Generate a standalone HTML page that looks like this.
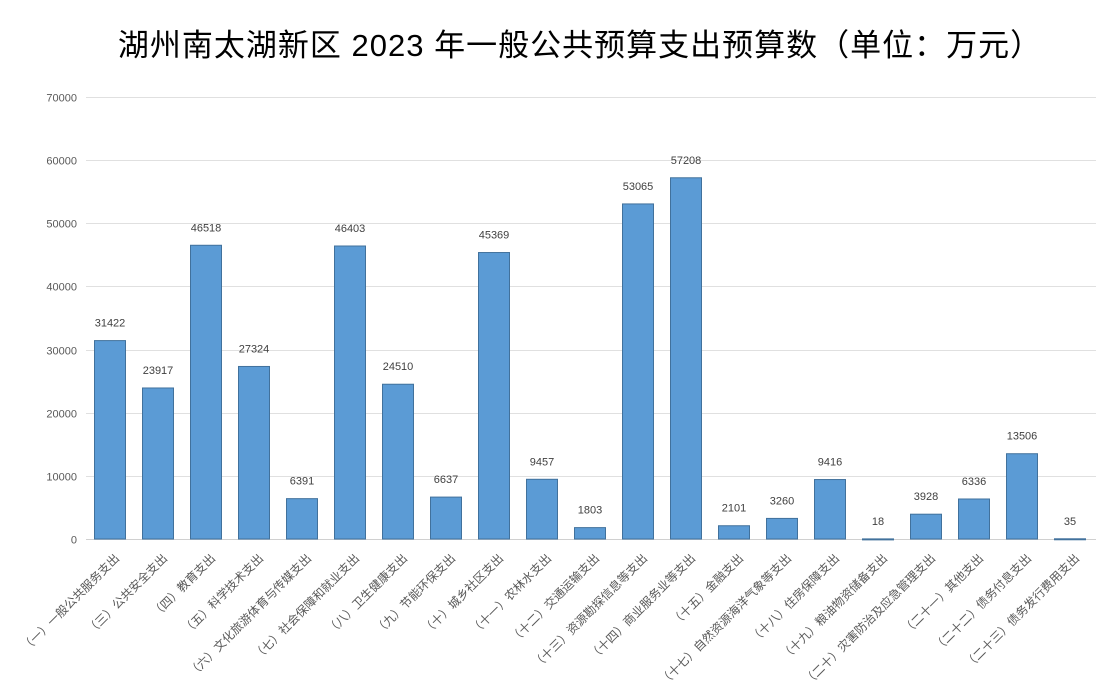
<!DOCTYPE html>
<html><head><meta charset="utf-8"><style>
body{margin:0;background:#fff;}
svg{display:block;font-family:"Liberation Sans","Noto Sans CJK SC",sans-serif;}
</style></head><body>
<svg width="1108" height="700" xmlns="http://www.w3.org/2000/svg">
<rect width="1108" height="700" fill="#fff"/>
<text x="580" y="56" font-size="31" letter-spacing="1" text-anchor="middle" fill="#000" font-family="Liberation Sans,Noto Sans CJK SC,sans-serif">湖州南太湖新区 2023 年一般公共预算支出预算数（单位：万元）</text>
</svg>
<script>
const labels=["（一）一般公共服务支出","（三）公共安全支出","（四）教育支出","（五）科学技术支出","（六）文化旅游体育与传媒支出","（七）社会保障和就业支出","（八）卫生健康支出","（九）节能环保支出","（十）城乡社区支出","（十一）农林水支出","（十二）交通运输支出","（十三）资源勘探信息等支出","（十四）商业服务业等支出","（十五）金融支出","（十七）自然资源海洋气象等支出","（十八）住房保障支出","（十九）粮油物资储备支出","（二十）灾害防治及应急管理支出","（二十一）其他支出","（二十二）债务付息支出","（二十三）债务发行费用支出"];
const vals=[31422,23917,46518,27324,6391,46403,24510,6637,45369,9457,1803,53065,57208,2101,3260,9416,18,3928,6336,13506,35];
const ns="http://www.w3.org/2000/svg",svg=document.querySelector('svg');
function el(t,a,txt){const e=document.createElementNS(ns,t);for(const k in a)e.setAttribute(k,a[k]);if(txt!=null)e.textContent=txt;svg.appendChild(e);return e;}
const y0=539,ppu=442/70000;
for(let i=0;i<=7;i++){const y=Math.round(y0-i*10000*ppu)+0.5;
el('line',{x1:86,x2:1096,y1:y,y2:y,stroke:i==0?'#d0d0d0':'#e0e0e0','stroke-width':1});
el('text',{x:77,y:y+4,'font-size':11,'text-anchor':'end',fill:'#595959'},String(i*10000));}
vals.forEach((v,i)=>{const cx=110+i*48,h=v*ppu;
el('rect',{x:cx-15.5,y:y0-h,width:31,height:Math.max(h,1),fill:'#5b9bd5',stroke:'#41719c','stroke-width':1});
el('text',{x:cx,y:y0-h-14,'font-size':11,'text-anchor':'middle',fill:'#404040'},String(v));
el('text',{x:0,y:0,'font-size':12,'text-anchor':'end',fill:'#595959',transform:`translate(${cx+10},${559}) rotate(-45)`},labels[i]);});
</script>
</body></html>
